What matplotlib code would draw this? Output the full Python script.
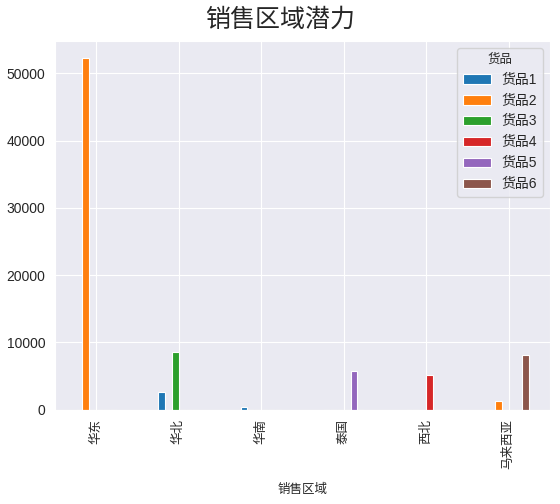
import matplotlib
matplotlib.use("Agg")
import matplotlib.pyplot as plt
import seaborn as sns
import pandas as pd

sns.set_style("darkgrid")
# latin glyphs in an Arial-like face, CJK falls through to Noto
plt.rcParams["font.family"] = ["Liberation Sans", "Noto Sans CJK SC"]
plt.rcParams["axes.unicode_minus"] = False

regions = ["华东", "华北", "华南", "泰国", "西北", "马来西亚"]
goods1 = [0, 2700, 450, 0, 0, 0]
goods2 = [52200, 0, 0, 0, 0, 1300]
goods3 = [0, 8650, 0, 0, 0, 0]
goods4 = [0, 0, 0, 0, 5100, 0]
goods5 = [0, 0, 0, 5700, 0, 0]
goods6 = [0, 0, 0, 0, 0, 8200]

df = pd.DataFrame({
    "货品1": goods1,
    "货品2": goods2,
    "货品3": goods3,
    "货品4": goods4,
    "货品5": goods5,
    "货品6": goods6,
}, index=pd.Index(regions, name="销售区域"))
df.columns.name = "货品"

fig, ax = plt.subplots(figsize=(5.6, 5.04), dpi=100)
df.plot.bar(ax=ax, edgecolor="white", linewidth=0.8)

fig.suptitle("销售区域潜力", fontsize=18, y=0.985)
ax.set_xlabel("销售区域", fontsize=9, labelpad=10)
ax.tick_params(axis="x", labelsize=9, rotation=90)
ax.tick_params(axis="y", labelsize=10)
ax.legend(title="货品", loc="upper right", fontsize=10, title_fontsize=9)

fig.subplots_adjust(left=0.098, right=0.982, top=0.919, bottom=0.187)
fig.savefig("out.png", dpi=100)
